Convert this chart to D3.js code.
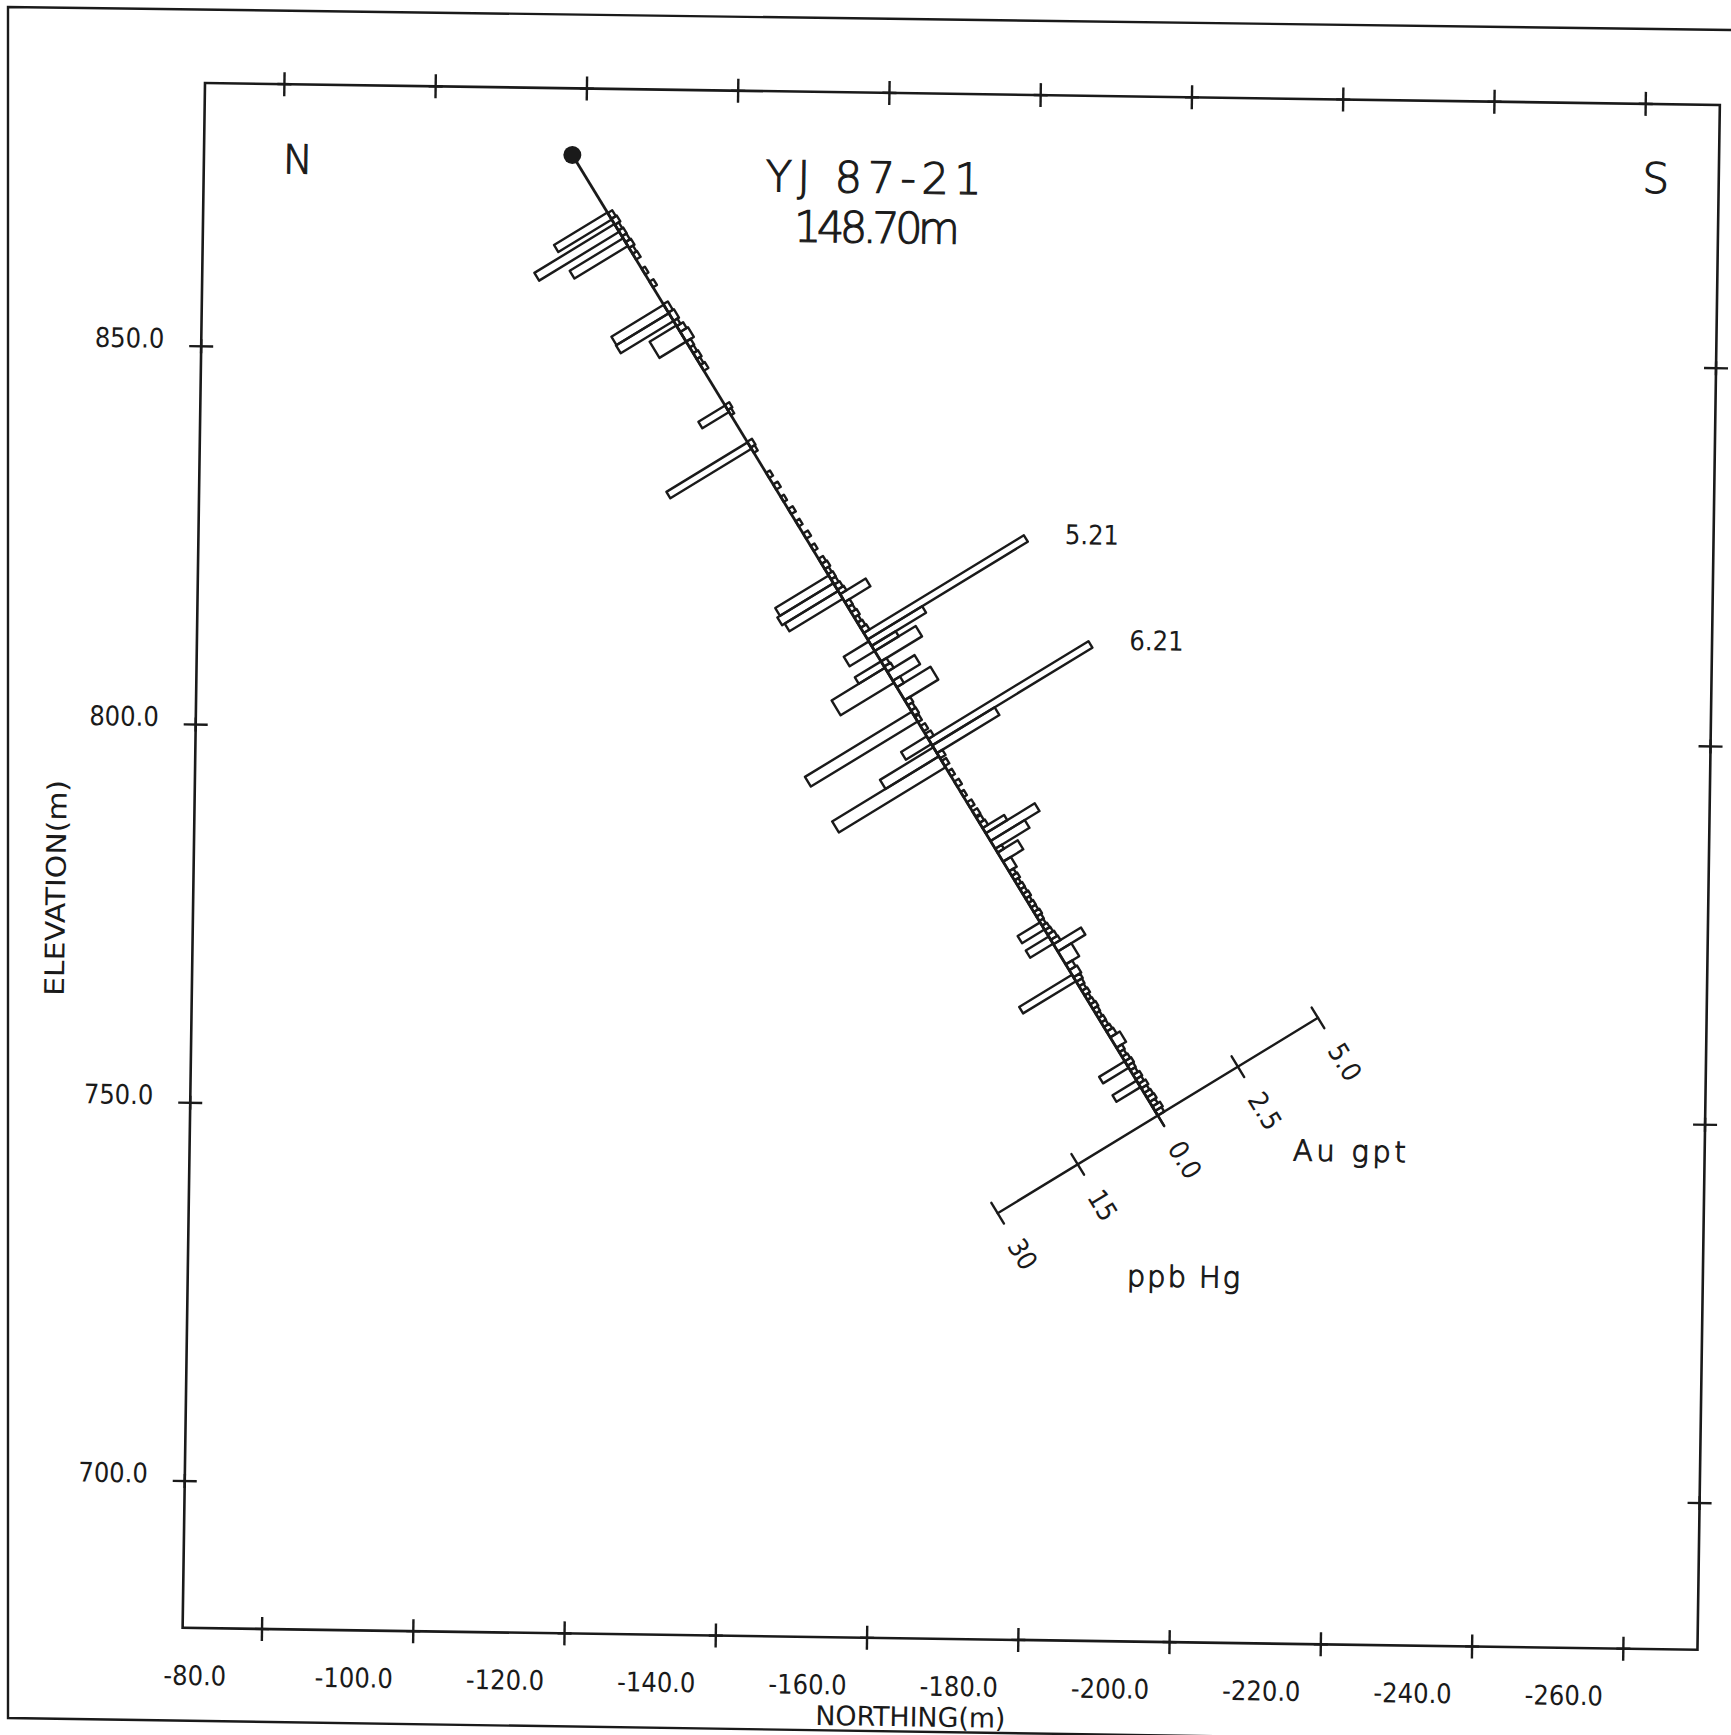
<!DOCTYPE html>
<html><head><meta charset="utf-8">
<script src="https://cdn.jsdelivr.net/npm/d3@7"></script>
<style>
body{margin:0;background:#fff}
text{fill:#1a1a1a}
.tk{font-family:"DejaVu Sans Condensed","DejaVu Sans",sans-serif;font-stretch:condensed;font-size:27px}
.ttl{font-family:"DejaVu Sans",sans-serif;font-weight:200;stroke:#1a1a1a;stroke-width:1.1px}
</style>
</head><body>
<svg id="c" width="1731" height="1735"></svg>
<script>
// ---------------- data ----------------
const xTicks = [-80,-100,-120,-140,-160,-180,-200,-220,-240,-260];
const yTicks = [850,800,750,700];
const holeName = "YJ 87-21";
const holeLength = 148.70;        // m
const collarN = -118.2, collarE = 876.0, holeDip = 57.8;  // collar & dip (deg), drilled south
const auAxisTicks = [0, 2.5, 5.0];
const hgAxisTicks = [0, 15, 30];
const auMax = 5.0;

// Au assays (gpt) by downhole interval (m)
const auFrom = [9.0,9.9,10.8,11.7,12.6,13.5,14.4,15.3,17.6,19.6,
  23.1,24.4,25.7,26.5,27.4,28.9,29.8,30.7,31.6,32.5,38.7,39.5,44.4,45.3,
  49.2,51.0,52.9,54.8,56.7,58.6,60.5,
  62.5,63.3,64.1,64.9,65.7,66.5,67.3,68.0,69.2,70.0,70.8,71.6,72.4,73.2,74.0,75.0,76.0,76.8,78.4,79.2,
  80.0,81.4,82.4,84.4,85.2,86.0,87.0,88.4,89.6,90.4,91.4,92.6,93.8,95.4,97.0,98.6,100.2,101.6,102.6,103.4,
  104.2,105.0,106.2,107.4,108.0,109.4,110.9,111.6,112.3,113.0,113.7,114.4,115.1,115.8,116.5,117.2,117.9,118.6,
  119.3,120.0,120.7,121.5,122.2,123.3,125.3,126.2,127.3,128.0,128.7,129.4,130.1,130.8,131.5,132.2,132.9,133.6,
  134.3,135.0,135.7,136.6,138.2,138.9,139.6,140.3,141.0,141.7,142.4,143.1,143.8,144.5,145.2,145.9,146.6,147.3,148.0];
const auTo = [9.9,10.8,11.7,12.6,13.5,14.4,15.3,16.2,18.5,20.5,
  24.4,25.7,26.5,27.4,28.9,29.8,30.7,31.6,32.5,33.4,39.5,40.3,45.3,46.1,
  50.0,51.8,53.7,55.6,57.5,59.4,61.3,
  63.3,64.1,64.9,65.7,66.5,67.3,68.0,69.2,70.0,70.8,71.6,72.4,73.2,74.0,75.0,76.0,76.8,78.4,79.2,80.0,
  81.4,82.4,84.4,85.2,86.0,86.8,87.8,89.2,90.4,91.4,92.6,93.4,94.6,96.2,97.8,99.4,101.0,102.4,103.4,104.2,
  105.0,106.2,107.4,108.0,109.4,110.9,111.6,112.3,113.0,113.7,114.4,115.1,115.8,116.5,117.2,117.9,118.6,119.3,
  120.0,120.7,121.5,122.2,123.3,125.3,126.2,127.3,128.0,128.7,129.4,130.1,130.8,131.5,132.2,132.9,133.6,134.3,
  135.0,135.7,136.6,138.2,138.9,139.6,140.3,141.0,141.7,142.4,143.1,143.8,144.5,145.2,145.9,146.6,147.3,148.0,148.7];
const auGpt = [.14,.17,.12,.15,.14,.17,.12,.14,.10,.12,
  .14,.17,.12,.20,.24,.14,.12,.15,.10,.14,.14,.10,.15,.12,
  .12,.14,.10,.14,.12,.15,.12,
  .14,.17,.12,.15,.14,.17,.20,.80,.15,.14,.17,.12,.15,.18,5.21,1.70,.75,1.28,.17,.20,
  .85,.22,1.05,.17,.14,.15,.12,.14,.17,6.21,1.95,.17,.14,.12,.14,.10,.14,.15,.14,.17,
  .67,1.53,1.07,.20,.63,.24,.14,.17,.12,.15,.14,.17,.12,.15,.14,.17,.14,.12,
  .15,.17,.20,.22,.86,.42,.20,.24,.20,.17,.14,.17,.12,.14,.17,.14,.12,.15,
  .14,.17,.20,.30,.17,.14,.17,.20,.17,.15,.20,.17,.22,.17,.20,.22,.17,.24,.20];

// Hg assays (ppb) by downhole interval (m)
const hgFrom = [8.9,10.7,12.9,23.2,24.5,26.4,38.8,44.5,65.1,66.3,67.5,75.3,78.4,79.4,86.2,90.0,91.7,93.1,118.8,121.0,126.9,140.3,143.3];
const hgTo   = [10.0,11.9,14.1,24.5,25.7,28.9,39.8,45.5,66.3,67.5,68.7,76.8,79.4,81.7,87.7,91.2,93.1,94.8,119.9,122.1,127.9,141.3,144.3];
const hgPpb  = [10,15,10,9.8,9.9,5,5,15.2,10,10.5,10,4.7,4.9,10,20,4.8,10,20,4.2,4.3,9.9,4.8,4.5];

// ---------------- drawing ----------------
const ink = "#1a1a1a";
const svg = d3.select("#c");

// sheet border
svg.append("path").attr("d","M1731,30 L8,7 L8,1718 L1731,1744")
  .attr("fill","none").attr("stroke",ink).attr("stroke-width",2.4);

const W = 1515, H = 1545;
const x = d3.scaleLinear().domain([-69.5,-269.8]).range([0,W]);
const y = d3.scaleLinear().domain([884.8,680.6]).range([0,H]);
const au = d3.scaleLinear().domain([0,auMax]).range([0,24.8]);   // m of section
const hg = d3.scaleLinear().domain([0,30]).range([0,24.8]);

const g = svg.append("g").attr("transform","translate(205,83) rotate(0.83)");

g.append("rect").attr("width",W).attr("height",H)
  .attr("fill","none").attr("stroke",ink).attr("stroke-width",2.6);

const cross = (cx,cy,a,b)=>{
  g.append("line").attr("x1",cx-a).attr("x2",cx+a).attr("y1",cy).attr("y2",cy)
    .attr("stroke",ink).attr("stroke-width",2.4);
  g.append("line").attr("x1",cx).attr("x2",cx).attr("y1",cy-b).attr("y2",cy+b)
    .attr("stroke",ink).attr("stroke-width",2.4);
};
xTicks.forEach(t=>{
  const px = x(t);
  cross(px,0,7,12); cross(px,H,7,12);
  g.append("text").attr("class","tk").attr("x",px-98).attr("y",H+57).text(t.toFixed(1));
});
yTicks.forEach(t=>{
  const py = y(t);
  cross(0,py,12,7); cross(W,py,12,7);
  g.append("text").attr("class","tk").attr("text-anchor","end").attr("x",-37).attr("y",py+2).text(t.toFixed(1));
});
g.append("text").attr("class","tk").attr("text-anchor","middle").attr("x",729).attr("y",H+88)
  .attr("font-size",24)
  .attr("textLength",190).attr("lengthAdjust","spacingAndGlyphs").text("NORTHING(m)");
g.append("text").attr("class","tk").attr("text-anchor","middle")
  .attr("transform","translate(-128,807) rotate(-90)")
  .attr("textLength",216).attr("lengthAdjust","spacingAndGlyphs").text("ELEVATION(m)");

// titles
g.append("text").attr("class","ttl").attr("x",94).attr("y",89).attr("text-anchor","middle")
  .attr("font-size",40).text("N");
g.append("text").attr("class","ttl").attr("x",1452).attr("y",89).attr("text-anchor","middle")
  .attr("font-size",42).text("S");
g.append("text").attr("class","ttl").attr("x",670).attr("y",100).attr("text-anchor","middle")
  .attr("font-size",43).attr("textLength",216).attr("lengthAdjust","spacing").text(holeName);
g.append("text").attr("class","ttl").attr("x",674).attr("y",150).attr("text-anchor","middle")
  .attr("font-size",43).attr("textLength",166).attr("lengthAdjust","spacing")
  .text(holeLength.toFixed(2)+"m");

// hole geometry: depth d along hole, offset o (m) to Au side (+) / Hg side (-)
const rad = holeDip*Math.PI/180, cs = Math.cos(rad), sn = Math.sin(rad);
const pt = (d,o)=>[collarN - d*cs - o*sn, collarE - d*sn + o*cs];
const line = d3.line().x(p=>x(p[0])).y(p=>y(p[1]));

const barStyle = sel=>sel.attr("fill","none").attr("stroke",ink).attr("stroke-width",2.4)
  .attr("stroke-linejoin","round").attr("stroke-linecap","round");

// hole trace
g.append("path").attr("d",line([pt(0,0),pt(holeLength,0)])).attr("fill","none")
  .attr("stroke",ink).attr("stroke-width",2.8);
g.append("circle").attr("cx",x(collarN)).attr("cy",y(collarE)).attr("r",9).attr("fill",ink);

// Au bars
auGpt.forEach((v,i)=>{
  const o = au(Math.min(v,auMax));
  const a = auFrom[i], b = auTo[i];
  g.append("path").attr("d",line([pt(a,0),pt(a,o),pt(b,o),pt(b,0)])+"Z").call(barStyle);
  if (v>auMax){
    const tip = pt((a+b)/2,o);
    g.append("text").attr("class","tk").attr("font-size",22)
      .attr("x",x(tip[0])+39).attr("y",y(tip[1])+5).text(v.toFixed(2));
  }
});
// Hg bars
hgPpb.forEach((v,i)=>{
  const o = -hg(v);
  const a = hgFrom[i], b = hgTo[i];
  g.append("path").attr("d",line([pt(a,0),pt(a,o),pt(b,o),pt(b,0)])+"Z").call(barStyle);
});

// legend scale bars at end of hole
const L = holeLength, half = 1.6;
const ang = Math.atan2(y(pt(1,0)[1])-y(pt(0,0)[1]), x(pt(1,0)[0])-x(pt(0,0)[0]))*180/Math.PI;
g.append("path").attr("d",line([pt(L,-hg(30)),pt(L,au(auMax))])).call(barStyle);
const axisTick = (o,label)=>{
  g.append("path").attr("d",line([pt(L-half,o),pt(L+half,o)])).call(barStyle);
  if (label!==null){
    const p = pt(L+4.3,o);
    g.append("text").attr("class","tk").attr("font-size",27)
      .attr("dominant-baseline","central")
      .attr("transform",`translate(${x(p[0])},${y(p[1])}) rotate(${ang})`).text(label);
  }
};
auAxisTicks.forEach(t=>axisTick(au(t), t.toFixed(1)));
hgAxisTicks.forEach(t=>axisTick(-hg(t), t===0?null:String(t)));
const ex = x(pt(L,0)[0]), ey = y(pt(L,0)[1]);
g.append("text").attr("class","ttl").attr("font-size",29).attr("text-anchor","middle")
  .attr("x",ex+192).attr("y",ey+43).attr("textLength",113).attr("lengthAdjust","spacing").text("Au gpt");
g.append("text").attr("class","ttl").attr("font-size",29).attr("text-anchor","middle")
  .attr("x",ex+28).attr("y",ey+171).attr("textLength",113).attr("lengthAdjust","spacing").text("ppb Hg");
</script>
</body></html>
